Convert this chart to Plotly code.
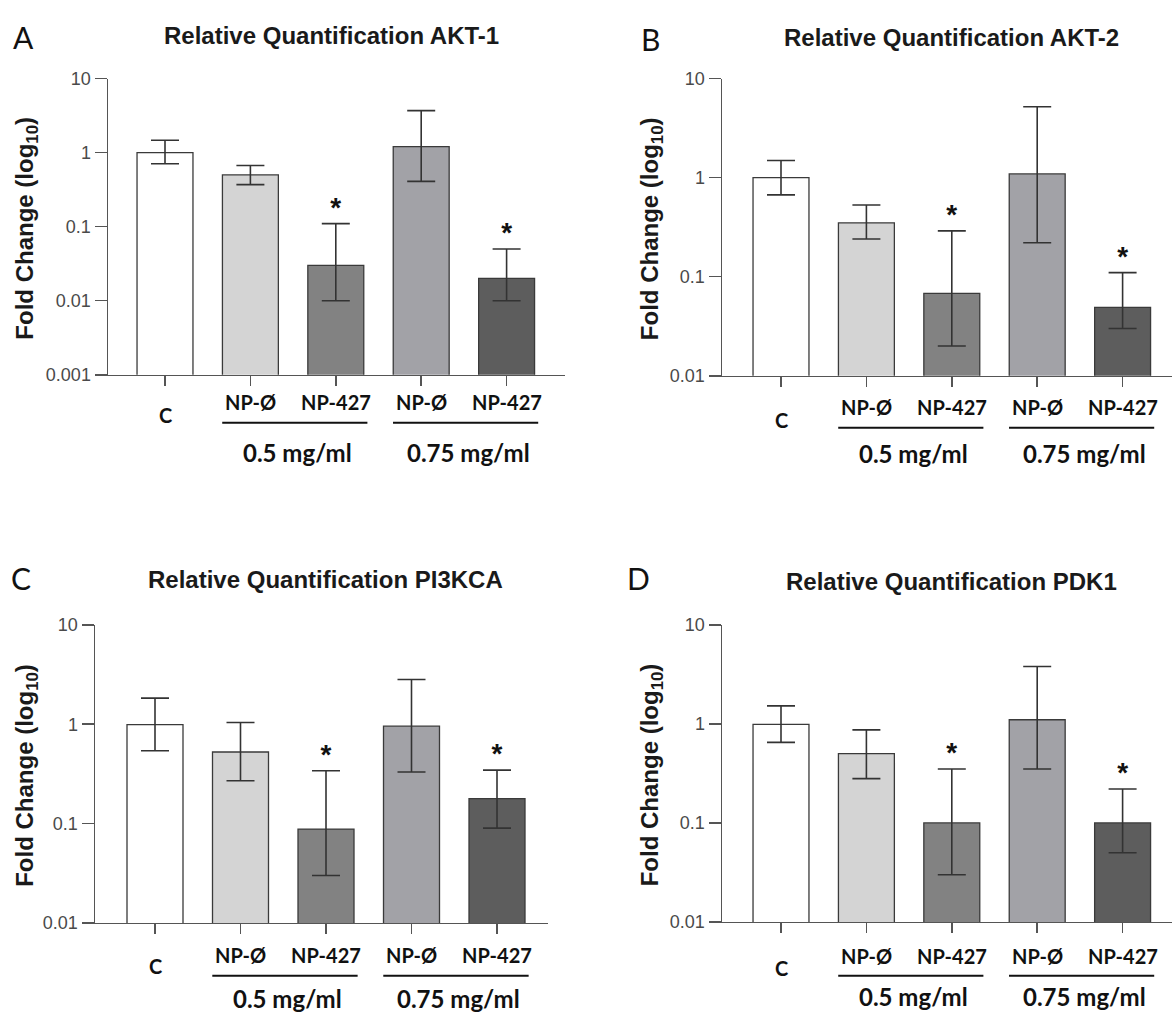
import math
import plotly.graph_objects as go

W, H = 1174, 1030

categories = ["C", "NP-Ø", "NP-427", "NP-Ø", "NP-427"]
group_labels = ["0.5 mg/ml", "0.75 mg/ml"]
y_tickvals = [0.001, 0.01, 0.1, 1, 10]
y_ticktext = ["0.001", "0.01", "0.1", "1", "10"]
bar_colors = ["#ffffff", "#d4d4d4", "#828282", "#a2a2a7", "#5d5d5d"]
sig_index = [2, 4]

titles = ["Relative Quantification AKT-1", "Relative Quantification AKT-2",
          "Relative Quantification PI3KCA", "Relative Quantification PDK1"]
letters = ["A", "B", "C", "D"]

akt1_mean = [1.0, 0.50, 0.030, 1.21, 0.020]
akt1_upper = [1.47, 0.67, 0.11, 3.7, 0.05]
akt1_lower = [0.71, 0.37, 0.010, 0.41, 0.010]

akt2_mean = [1.0, 0.35, 0.068, 1.09, 0.049]
akt2_upper = [1.49, 0.53, 0.29, 5.2, 0.11]
akt2_lower = [0.67, 0.24, 0.020, 0.22, 0.030]

pi3kca_mean = [0.99, 0.525, 0.088, 0.955, 0.178]
pi3kca_upper = [1.83, 1.04, 0.34, 2.82, 0.345]
pi3kca_lower = [0.54, 0.27, 0.030, 0.33, 0.090]

pdk1_mean = [0.99, 0.50, 0.10, 1.10, 0.10]
pdk1_upper = [1.52, 0.87, 0.35, 3.8, 0.22]
pdk1_lower = [0.65, 0.28, 0.030, 0.35, 0.050]

means = [akt1_mean, akt2_mean, pi3kca_mean, pdk1_mean]
uppers = [akt1_upper, akt2_upper, pi3kca_upper, pdk1_upper]
lowers = [akt1_lower, akt2_lower, pi3kca_lower, pdk1_lower]
ymins = [0.001, 0.01, 0.01, 0.01]

# pixel layout for each panel
panels = [
    dict(left=108, right=565, top=70, bottom=372, c0=165, step=85.4,
         title=(331, 26), letter=(23, 28), ytitle_x=27,
         lab_np=400, lab_c=413, lab_line=421, lab_grp=451),
    dict(left=722, right=1172, top=70, bottom=373, c0=781, step=85.4,
         title=(951, 28), letter=(650, 30), ytitle_x=651,
         lab_np=405, lab_c=418, lab_line=426, lab_grp=452),
    dict(left=95, right=548, top=627, bottom=931, c0=155, step=85.5,
         title=(325, 581), letter=(21, 579), ytitle_x=27,
         lab_np=964, lab_c=975, lab_line=985, lab_grp=1008),
    dict(left=722, right=1172, top=627, bottom=930, c0=781, step=85.4,
         title=(951, 583), letter=(638, 579), ytitle_x=651,
         lab_np=965, lab_c=977, lab_line=985, lab_grp=1006),
]

fig = go.Figure()
annotations = []
shapes = []


def px(xp):
    return xp / W


def py(yp):
    return 1 - yp / H


for k, p in enumerate(panels):
    ax = "" if k == 0 else str(k + 1)
    xs = list(range(len(categories)))
    m = means[k]
    up = [u - v for u, v in zip(uppers[k], m)]
    dn = [v - l for v, l in zip(m, lowers[k])]
    fig.add_trace(go.Bar(
        x=xs, y=m, width=0.655,
        marker=dict(color=bar_colors, line=dict(color="#3a3a3a", width=1.3)),
        error_y=dict(type="data", symmetric=False, array=up, arrayminus=dn,
                     color="#333333", thickness=1.6, width=14),
        xaxis="x" + ax, yaxis="y" + ax, showlegend=False, hoverinfo="skip",
    ))
    # significance stars above the upper error caps
    fig.add_trace(go.Scatter(
        x=sig_index, y=[uppers[k][i] for i in sig_index],
        mode="text", text=["*"] * len(sig_index), textposition="top center",
        textfont=dict(family="Arial, Liberation Sans", size=28, color="#111111", weight="bold"),
        xaxis="x" + ax, yaxis="y" + ax, showlegend=False, hoverinfo="skip",
    ))
    xr = [(p["left"] - p["c0"]) / p["step"], (p["right"] - p["c0"]) / p["step"]]
    tv = [t for t in y_tickvals if t >= ymins[k]]
    tt = [s for t, s in zip(y_tickvals, y_ticktext) if t >= ymins[k]]
    fig.update_layout(**{
        "xaxis" + ax: dict(domain=[px(p["left"]), px(p["right"])], range=xr,
                           anchor="y" + ax, showline=True, linecolor="#555555", linewidth=1.5,
                           tickvals=xs, showticklabels=False, ticks="outside", ticklen=10,
                           tickwidth=1.5, tickcolor="#555555", showgrid=False, zeroline=False,
                           tickfont=dict(family="Lato", size=20, color="#111111"),
                           title=dict(text="", font=dict(family="Arial", size=20)),
                           fixedrange=True),
        "yaxis" + ax: dict(domain=[py(p["bottom"]), py(p["top"])], type="log",
                           range=[math.log10(ymins[k]), 1],
                           anchor="x" + ax, showline=True, linecolor="#555555", linewidth=1.5,
                           tickvals=tv, ticktext=tt,
                           ticks="outside", ticklen=12, tickwidth=1.5, tickcolor="#555555",
                           tickfont=dict(family="Arial, Liberation Sans", size=18, color="#4a4a4a"),
                           title=dict(text="", font=dict(family="Arial", size=24)),
                           showgrid=False, zeroline=False, fixedrange=True),
    })
    xref = "x" + ax
    # category labels
    for i, lab in enumerate(categories):
        yy = p["lab_c"] if lab == "C" else p["lab_np"]
        annotations.append(dict(x=i, y=py(yy), xref=xref, yref="paper",
                                text=lab, showarrow=False,
                                font=dict(family="Lato", size=20, color="#111111", weight="bold"),
                                xanchor="center", yanchor="middle"))
    # group lines and labels
    for g, glab in enumerate(group_labels):
        i0 = 1 + 2 * g
        shapes.append(dict(type="line", xref=xref, yref="paper",
                           x0=i0 - 0.33, x1=i0 + 1 + 0.37,
                           y0=py(p["lab_line"]), y1=py(p["lab_line"]),
                           line=dict(color="#111111", width=2)))
        annotations.append(dict(x=i0 + 0.55, y=py(p["lab_grp"]), xref=xref, yref="paper",
                                text=glab, showarrow=False,
                                font=dict(family="Lato", size=24, color="#111111", weight="bold"),
                                xanchor="center", yanchor="middle"))
    # title
    annotations.append(dict(x=px(p["title"][0]), y=py(p["title"][1]),
                            xref="paper", yref="paper", text=titles[k],
                            showarrow=False,
                            font=dict(family="Arial, Liberation Sans", size=24,
                                      color="#1a1a1a", weight="bold"),
                            xanchor="center", yanchor="middle"))
    # panel letter
    annotations.append(dict(x=px(p["letter"][0]), y=py(p["letter"][1]), xref="paper", yref="paper",
                            text=letters[k], showarrow=False,
                            font=dict(family="Lato", size=30, color="#111111"),
                            xanchor="center", yanchor="middle"))
    # y-axis title
    annotations.append(dict(x=px(p["ytitle_x"]), y=py((p["top"] + p["bottom"]) / 2 + 2),
                            xref="paper", yref="paper", textangle=-90,
                            text="Fold Change (log<sub>10</sub>)", showarrow=False,
                            font=dict(family="Arial, Liberation Sans", size=24,
                                      color="#1a1a1a", weight="bold"),
                            xanchor="center", yanchor="middle"))

fig.update_layout(width=W, height=H, margin=dict(l=0, r=0, t=0, b=0),
                  paper_bgcolor="white", plot_bgcolor="white",
                  annotations=annotations, shapes=shapes, bargap=0)
post = (
    "document.body.style.margin='0px';"
    "document.querySelectorAll('text.xtitle, text.ytitle').forEach(function(e){"
    "if(!e.textContent){e.remove();}});"
)
fig.write_html("out.html", config={"displayModeBar": False, "staticPlot": True},
               post_script=post)
